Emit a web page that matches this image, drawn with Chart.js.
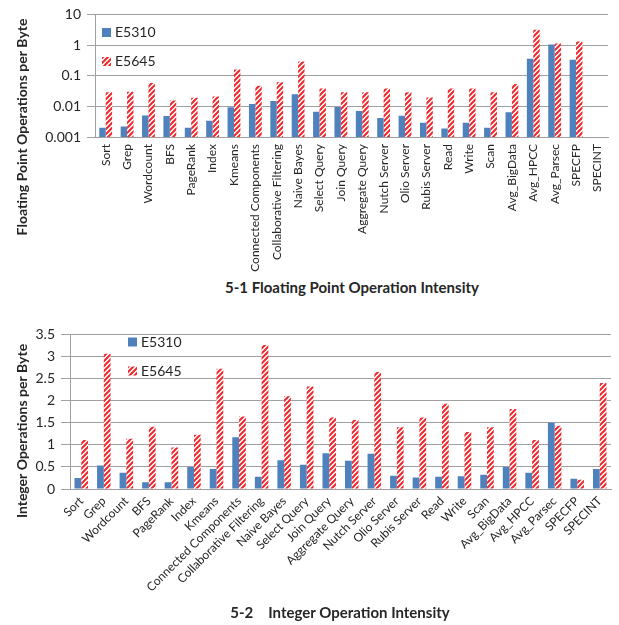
<!DOCTYPE html>
<html><head><meta charset="utf-8">
<script src="https://cdn.jsdelivr.net/npm/chart.js@4"></script>
<style>
html,body{margin:0;padding:0;background:#fff;}
body{width:619px;height:625px;position:relative;overflow:hidden;font-family:Lato,sans-serif;}
#c1wrap{position:absolute;left:0;top:0;width:619px;height:278px;}
#c2wrap{position:absolute;left:0;top:320px;width:619px;height:290px;}
.title{position:absolute;font-weight:bold;font-size:15px;white-space:pre;color:#262626;transform:translate(-50%,-50%);line-height:18px;}
</style></head>
<body>
<div id="c1wrap"><canvas id="c1"></canvas></div>
<div class="title" style="left:352px;top:287px">5-1 Floating Point Operation Intensity</div>
<div id="c2wrap"><canvas id="c2"></canvas></div>
<div class="title" style="left:340px;top:612px">5-2<span style="margin-left:15px">Integer Operation Intensity</span></div>
<script>
const categories = ['Sort','Grep','Wordcount','BFS','PageRank','Index','Kmeans','Connected Components','Collaborative Filtering','Naive Bayes','Select Query','Join Query','Aggregate Query','Nutch Server','Olio Server','Rubis Server','Read','Write','Scan','Avg_BigData','Avg_HPCC','Avg_Parsec','SPECFP','SPECINT'];
const seriesNames = ['E5310','E5645'];
const fpE5310 = [0.002,0.0022,0.005,0.0048,0.002,0.0034,0.0093,0.012,0.015,0.025,0.0067,0.0095,0.007,0.0042,0.0049,0.0029,0.0019,0.0029,0.002,0.0064,0.36,1.05,0.33,null];
const fpE5645 = [0.029,0.03,0.058,0.0155,0.019,0.021,0.158,0.047,0.061,0.29,0.038,0.029,0.029,0.038,0.029,0.0195,0.038,0.038,0.029,0.054,3.15,1.13,1.31,null];
const intE5310 = [0.25,0.53,0.37,0.15,0.155,0.5,0.45,1.17,0.28,0.65,0.55,0.81,0.64,0.8,0.3,0.26,0.28,0.29,0.32,0.5,0.37,1.5,0.23,0.45];
const intE5645 = [1.11,3.06,1.14,1.41,0.94,1.23,2.72,1.64,3.26,2.1,2.32,1.62,1.56,2.65,1.4,1.62,1.93,1.29,1.4,1.81,1.11,1.43,0.21,2.4];
const fpTickValues = [0.001,0.01,0.1,1,10];
const fpTickLabels = ['0.001','0.01','0.1','1','10'];
const intTickValues = [0,0.5,1,1.5,2,2.5,3,3.5];
const intTickLabels = ['0','0.5','1','1.5','2','2.5','3','3.5'];
const yTitles = ['Floating Point Operations per Byte','Integer Operations per Byte'];

const BLUE = '#4f81bd';
const TXT = '#262626';
const GRID = '#a0a0a0';
function stripe(){
  const s=5, c=document.createElement('canvas'); c.width=s;c.height=s;
  const x=c.getContext('2d'); x.fillStyle='#fff'; x.fillRect(0,0,s,s);
  x.strokeStyle='#f0282d'; x.lineWidth=2; x.beginPath();
  for(const o of [-s,0,s]){ x.moveTo(o-1,s+1); x.lineTo(o+s+1,-1); }
  x.stroke();
  return x.createPattern(c,'repeat');
}
const RED = stripe();

const decor = {
  id:'decor',
  afterDraw(chart, args, o){
    const ctx=chart.ctx;
    ctx.save();
    ctx.font='bold 14px Lato'; ctx.fillStyle=TXT; ctx.textAlign='center'; ctx.textBaseline='middle';
    ctx.translate(o.tx,o.ty); ctx.rotate(-Math.PI/2); ctx.fillText(o.title,0,0);
    ctx.restore();
    ctx.save();
    ctx.font='14px Lato'; ctx.textBaseline='middle'; ctx.textAlign='left';
    chart.data.datasets.forEach((d,i)=>{
      const y=o.ly[i];
      ctx.fillStyle=d.backgroundColor; ctx.fillRect(o.lx,y-4.5,9,9);
      ctx.fillStyle=TXT; ctx.fillText(d.label,o.lx+13,y);
    });
    ctx.restore();
  }
};

function makeChart(id, d1, d2, yOpts, xOpts, pad, yW, xH, dec){
  return new Chart(document.getElementById(id), {
    type:'bar',
    data:{labels:categories, datasets:[
      {label:seriesNames[0], data:d1, backgroundColor:BLUE},
      {label:seriesNames[1], data:d2, backgroundColor:RED}
    ]},
    options:{
      responsive:true, maintainAspectRatio:false, animation:false,
      layout:{padding:pad},
      datasets:{bar:{categoryPercentage:0.6, barPercentage:1}},
      plugins:{legend:{display:false}, tooltip:{enabled:false}, decor:dec},
      scales:{
        x:Object.assign({
          grid:{display:false, drawTicks:false},
          border:{color:GRID},
          afterFit(s){ s.height = xH; }
        }, xOpts),
        y:Object.assign({
          grid:{color:GRID, tickLength:8},
          border:{color:GRID},
          afterFit(s){ s.width = yW; }
        }, yOpts)
      }
    },
    plugins:[decor]
  });
}

makeChart('c1', fpE5310, fpE5645,
  {type:'logarithmic', min:0.001, max:10,
   afterBuildTicks(s){ s.ticks = fpTickValues.map(v=>({value:v})); },
   ticks:{callback:(v,i)=>fpTickLabels[i], font:{family:'Lato',size:14}, color:TXT, padding:6}},
  {ticks:{minRotation:90,maxRotation:90,autoSkip:false,padding:7,font:{family:'Lato',size:12},color:TXT}},
  {left:0,right:8,top:8,bottom:0}, 95, 278-137,
  {title:yTitles[0], tx:22, ty:127, lx:102, ly:[32.5,61.5]});

makeChart('c2', intE5310, intE5645,
  {min:0, max:3.5,
   afterBuildTicks(s){ s.ticks = intTickValues.map(v=>({value:v})); },
   ticks:{callback:(v,i)=>intTickLabels[i], font:{family:'Lato',size:14}, color:TXT, padding:6},
   grid:{color:GRID, tickLength:9}},
  {ticks:{minRotation:45,maxRotation:45,autoSkip:false,padding:5,font:{family:'Lato',size:12},color:TXT}},
  {left:0,right:8,top:14,bottom:0}, 70, 290-169,
  {title:yTitles[1], tx:22, ty:111, lx:128, ly:[22,51]});
</script>
</body></html>
